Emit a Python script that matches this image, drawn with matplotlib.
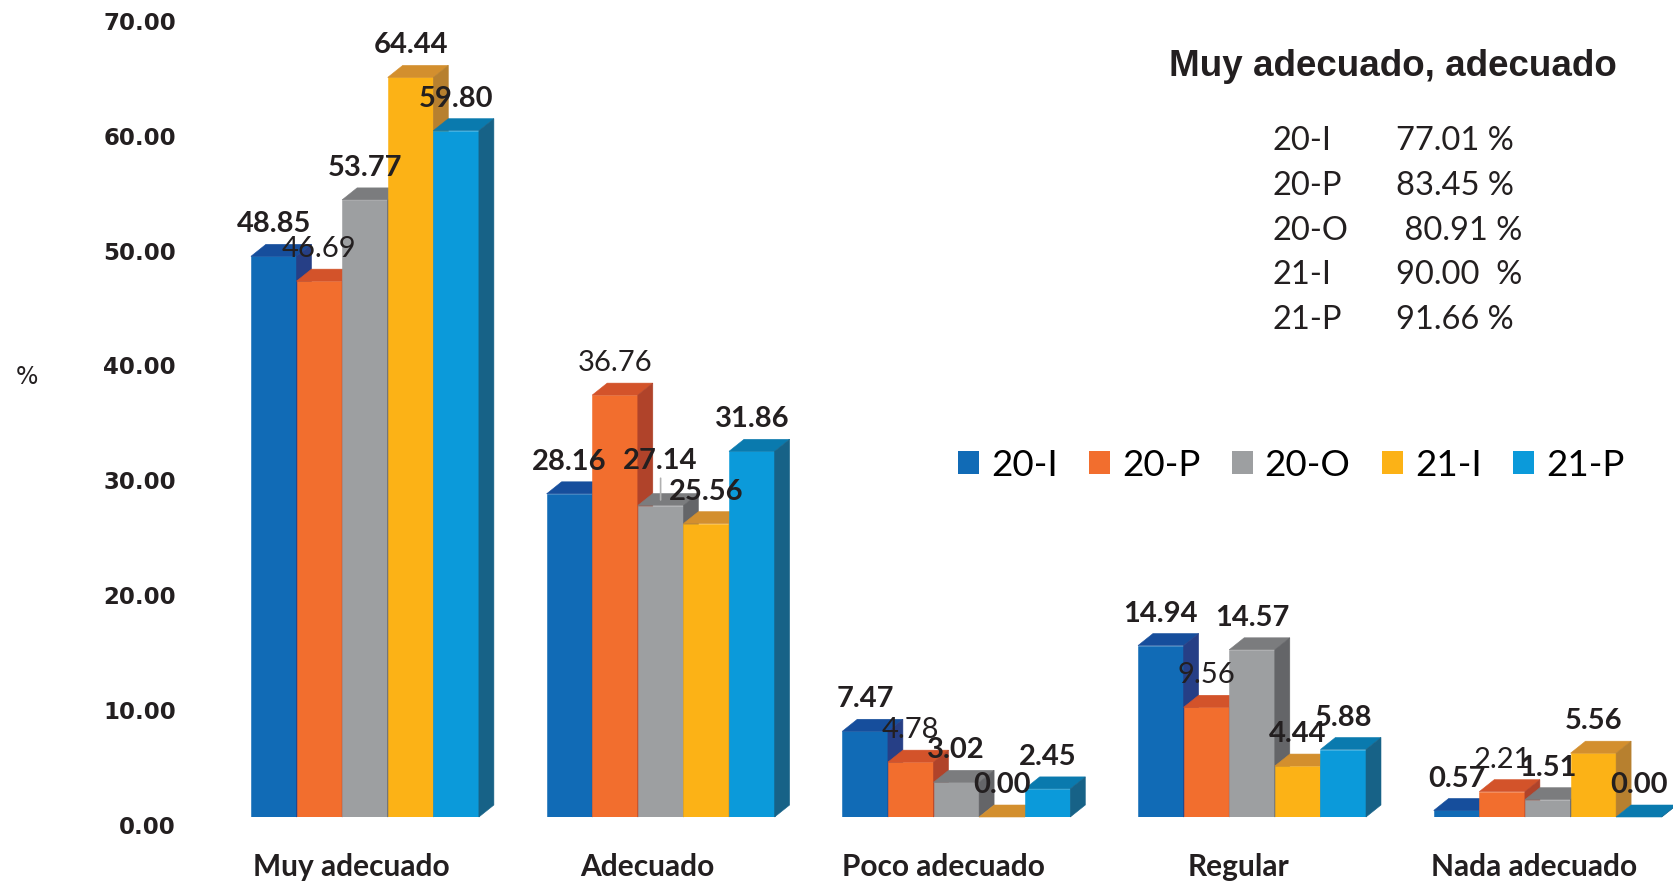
import matplotlib
matplotlib.use("Agg")
import matplotlib.pyplot as plt
from matplotlib.patches import Polygon, Patch
from matplotlib.transforms import ScaledTranslation

# ---------------- data ----------------
CATEGORIES = ["Muy adecuado", "Adecuado", "Poco adecuado", "Regular", "Nada adecuado"]
SERIES = ["20-I", "20-P", "20-O", "21-I", "21-P"]

VAL_20I = [48.85, 28.16, 7.47, 14.94, 0.57]
VAL_20P = [46.69, 36.76, 4.78, 9.56, 2.21]
VAL_20O = [53.77, 27.14, 3.02, 14.57, 1.51]
VAL_21I = [64.44, 25.56, 0.00, 4.44, 5.56]
VAL_21P = [59.80, 31.86, 2.45, 5.88, 0.00]
ALL_VALUES = [VAL_20I, VAL_20P, VAL_20O, VAL_21I, VAL_21P]

# 20-P labels are drawn in regular weight in the original
LABEL_BOLD = [True, False, True, True, True]

BOX_TITLE = "Muy adecuado, adecuado"
BOX_NAMES = ["20-I", "20-P", "20-O", "21-I", "21-P"]
BOX_VALUES = ["77.01 %", "83.45 %", " 80.91 %", "90.00  %", "91.66 %"]

YTICKS = [0, 10, 20, 30, 40, 50, 60, 70]

# ---------------- style ----------------
FRONT = ["#116BB6", "#F26E2E", "#9D9FA1", "#FCB216", "#0B9ADA"]
TOP = ["#164E9C", "#D3532A", "#7B7C7E", "#D38F2E", "#0A7AAE"]
SIDE = ["#263F86", "#B0432A", "#646568", "#B7802F", "#176287"]
TXT = "#231F20"

W, H, DPI = 1674, 883, 100
BAR_W = 0.1542      # width of one bar in group units
DX = 0.0507         # depth offset (x, data units)
DY = 1.045          # depth offset (y, data units)

fig = plt.figure(figsize=(W / DPI, H / DPI), dpi=DPI)
ax = fig.add_axes([190 / W, 66 / H, 1 - 190 / W, 803.4 / H])
ax.set_xlim(-0.5915, 4.4271)
ax.set_ylim(0, 70)
for s in ax.spines.values():
    s.set_visible(False)

z = 3
for i in range(len(CATEGORIES)):
    for j, vals in enumerate(ALL_VALUES):
        v = vals[i]
        xc = i + (j - 2) * BAR_W
        xl, xr = xc - BAR_W / 2, xc + BAR_W / 2
        ax.bar(xc, v, width=BAR_W, color=FRONT[j], edgecolor=FRONT[j],
               linewidth=0.4, zorder=z)
        top = Polygon([(xl, v), (xr, v), (xr + DX, v + DY), (xl + DX, v + DY)],
                      closed=True, facecolor=TOP[j], edgecolor=TOP[j],
                      linewidth=0.4, zorder=z + 1, clip_on=False)
        side = Polygon([(xr, 0), (xr + DX, DY), (xr + DX, v + DY), (xr, v)],
                       closed=True, facecolor=SIDE[j], edgecolor=SIDE[j],
                       linewidth=0.4, zorder=z + 1, clip_on=False)
        ax.add_patch(top)
        ax.add_patch(side)
        z += 2

        # value labels
        off = 23
        kw = {}
        if i == 1 and j == 2:
            off = 32
            kw["arrowprops"] = dict(arrowstyle="-", color="#B0B0B0", lw=1.2,
                                    shrinkA=1, shrinkB=4)
        ax.annotate(f"{v:.2f}", xy=(xc, v), xytext=(0, off),
                    textcoords="offset points", ha="center", va="center",
                    fontsize=21, family="Lato",
                    fontweight="bold" if LABEL_BOLD[j] else "normal",
                    color=TXT, zorder=200, **kw)

# axes ticks
ax.set_yticks(YTICKS)
ax.set_yticklabels([f"{t:.2f}" for t in YTICKS], family="DejaVu Sans",
                   fontweight="bold", fontsize=16.5, color=TXT)
ax.tick_params(axis="y", length=0, pad=10)
shift = ScaledTranslation(0, -7.5 / DPI, fig.dpi_scale_trans)
for lab in ax.get_yticklabels():
    lab.set_transform(lab.get_transform() + shift)

ax.set_xticks([i - 0.045 for i in range(len(CATEGORIES))])
ax.set_xticklabels(CATEGORIES, family="Lato", fontweight="bold",
                   fontsize=21.5, color=TXT)
ax.tick_params(axis="x", length=0, pad=26)

fig.text(27 / W, 1 - 377 / H, "%", ha="center", va="center",
         fontsize=17, color=TXT)

# legend
handles = [Patch(facecolor=c, edgecolor="none") for c in FRONT]
fig.legend(handles, SERIES, ncol=5, loc="center left",
           bbox_to_anchor=(958 / W, 1 - 465 / H), frameon=False,
           prop={"family": "Lato", "size": 26.5},
           handlelength=0.57, handleheight=0.57, handletextpad=0.32,
           columnspacing=0.86, borderpad=0, borderaxespad=0)

# summary block
fig.text(1169 / W, 1 - 66 / H, BOX_TITLE, ha="left", va="center",
         family="Liberation Sans", fontweight="bold", fontsize=26.5, color=TXT)
for k, (nm, vl) in enumerate(zip(BOX_NAMES, BOX_VALUES)):
    yy = 1 - (141 + 44.8 * k) / H
    fig.text(1273 / W, yy, nm, ha="left", va="center", family="Lato",
             fontsize=23.5, color=TXT)
    fig.text(1396 / W, yy, vl, ha="left", va="center", family="Lato",
             fontsize=23.5, color=TXT)

plt.savefig("out.png", dpi=DPI)
plt.close()
